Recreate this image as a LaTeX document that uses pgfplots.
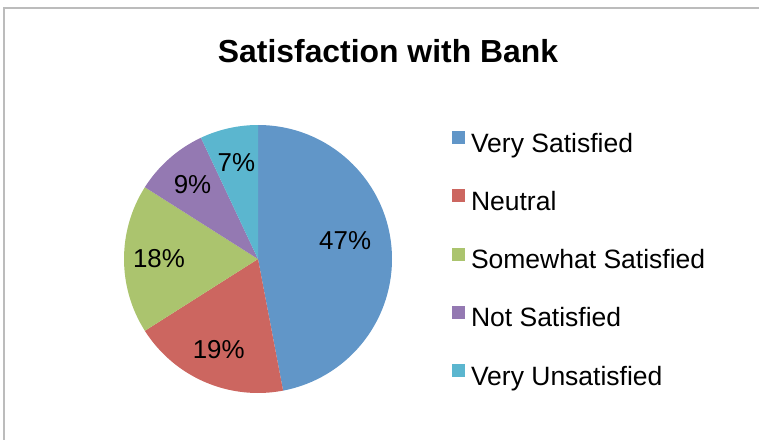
\documentclass[border=0pt]{standalone}
\usepackage{pgfplots}
\pgfplotsset{compat=1.18}
\usepackage{pgfplotstable}
\usepackage{fontspec}
\setmainfont{Liberation Sans}
\definecolor{c0}{RGB}{97,150,200}
\definecolor{c1}{RGB}{204,102,96}
\definecolor{c2}{RGB}{171,196,110}
\definecolor{c3}{RGB}{148,121,178}
\definecolor{c4}{RGB}{91,182,207}
\definecolor{framegray}{RGB}{188,188,188}
% slice values (percent), label radius and label angle shift
\pgfplotstableread{
idx value lr lshift
0 47 89 6.3
1 19 99 0
2 18 99 0
3 9 99 0
4 7 99 0
}\piedata
\begin{document}
\begin{tikzpicture}
\useasboundingbox (0,0) rectangle (759bp,440bp);
\begin{axis}[
  x=1bp, y=1bp,
  xmin=0, xmax=759, ymin=0, ymax=440,
  at={(0,0)}, anchor=south west,
  hide axis, clip=false,
  legend style={
    at={(452/759,309/440)}, anchor=north west,
    draw=none, fill=none, inner sep=0pt, outer sep=0pt,
    font=\fontsize{26.6}{30}\selectfont,
    row sep=30.3bp,
    nodes={inner sep=0pt, text height=19bp, text depth=7bp},
    /tikz/every odd column/.style={column sep=6bp},
  },
  legend cell align=left,
  legend image code/.code={\fill[#1] (0bp,2bp) rectangle (13bp,15bp);},
]
% frame
\draw[framegray, line width=2bp] (4,-20) -- (4,431.5) -- (800,431.5);
% title
\node[font=\bfseries\fontsize{32}{36}\selectfont, anchor=base] at (axis cs:388,378) {Satisfaction with Bank};
% pie slices
\def\cum{0}
\pgfplotsforeachungrouped \i in {0,...,4}{%
  \pgfplotstablegetelem{\i}{value}\of\piedata
  \let\val\pgfplotsretval
  \pgfplotstablegetelem{\i}{lr}\of\piedata
  \let\lrad\pgfplotsretval
  \pgfplotstablegetelem{\i}{lshift}\of\piedata
  \let\lsh\pgfplotsretval
  \pgfmathsetmacro\sa{90-3.6*\cum}%
  \pgfmathsetmacro\ea{90-3.6*(\cum+\val)}%
  \pgfmathsetmacro\ma{(\sa+\ea)/2+\lsh}%
  \pgfmathsetmacro\lx{258+\lrad*cos(\ma)}%
  \pgfmathsetmacro\ly{181+\lrad*sin(\ma)}%
  \pgfmathsetmacro\newcum{\cum+\val}%
  \global\let\cum\newcum
  \edef\temp{%
    \noexpand\fill[c\i] (axis cs:258,181) -- ++(\sa:134bp) arc[start angle=\sa, end angle=\ea, radius=134bp] -- cycle;
    \noexpand\node[font=\noexpand\fontsize{26}{30}\noexpand\selectfont, inner sep=0pt] at (axis cs:\lx,\ly) {\val\noexpand\%};
  }%
  \temp
}
\addlegendimage{fill=c0, draw=none}\addlegendentry{Very Satisfied}
\addlegendimage{fill=c1, draw=none}\addlegendentry{Neutral}
\addlegendimage{fill=c2, draw=none}\addlegendentry{Somewhat Satisfied}
\addlegendimage{fill=c3, draw=none}\addlegendentry{Not Satisfied}
\addlegendimage{fill=c4, draw=none}\addlegendentry{Very Unsatisfied}
\end{axis}
\end{tikzpicture}
\end{document}
